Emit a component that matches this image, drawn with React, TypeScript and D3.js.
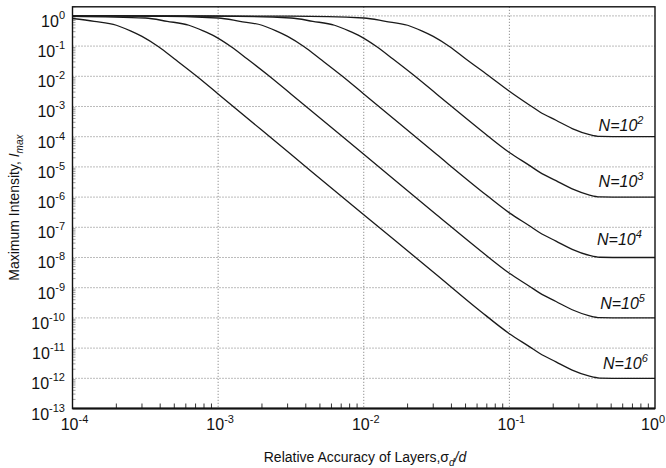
import * as d3 from 'd3'

// values: [sigma_d/d, I_max]
const curveN2: [number, number][] = [
  [1e-4, 1], [3.16e-3, 0.98], [1e-2, 0.85], [1.41e-2, 0.66], [2e-2, 0.49], [2.5e-2, 0.32],
  [3e-2, 0.21], [3.9e-2, 0.095], [5e-2, 0.038], [7.1e-2, 1.1e-2], [0.1, 3.2e-3], [0.138, 1.1e-3],
  [0.162, 6.6e-4], [0.209, 3.5e-4], [0.27, 1.86e-4], [0.355, 1.17e-4], [0.417, 1.02e-4],
  [0.63, 1e-4], [1, 1e-4],
]
const curveN3: [number, number][] = [
  [1e-4, 1], [1e-3, 0.98], [3.16e-3, 0.85], [4.47e-3, 0.66], [6.3e-3, 0.49], [7.9e-3, 0.32],
  [9.5e-3, 0.21], [1.23e-2, 0.095], [1.58e-2, 0.038], [2.24e-2, 1.02e-2], [3.16e-2, 2.6e-3],
  [6.3e-2, 1.7e-4], [0.1, 3.0e-5], [0.138, 1.1e-5], [0.162, 6.6e-6], [0.209, 3.5e-6],
  [0.27, 1.86e-6], [0.355, 1.17e-6], [0.417, 1.02e-6], [0.63, 1e-6], [1, 1e-6],
]
const curveN4: [number, number][] = [
  [1e-4, 1], [3.16e-4, 0.98], [1e-3, 0.85], [1.41e-3, 0.66], [2e-3, 0.49], [2.5e-3, 0.32],
  [3e-3, 0.21], [3.9e-3, 0.095], [5e-3, 0.038], [7.1e-3, 1.02e-2], [1e-2, 2.6e-3],
  [3.16e-2, 2.6e-5], [6.3e-2, 1.7e-6], [0.1, 3.0e-7], [0.138, 1.1e-7], [0.162, 6.6e-8],
  [0.209, 3.5e-8], [0.27, 1.86e-8], [0.355, 1.17e-8], [0.417, 1.02e-8], [0.63, 1e-8], [1, 1e-8],
]
const curveN5: [number, number][] = [
  [1e-4, 0.97], [3.16e-4, 0.85], [4.47e-4, 0.66], [6.3e-4, 0.49], [7.9e-4, 0.32], [9.5e-4, 0.21],
  [1.23e-3, 0.095], [1.58e-3, 0.038], [2.24e-3, 1.02e-2], [3.16e-3, 2.6e-3], [1e-2, 2.6e-5],
  [3.16e-2, 2.6e-7], [6.3e-2, 1.7e-8], [0.1, 3.0e-9], [0.138, 1.1e-9], [0.162, 6.6e-10],
  [0.209, 3.5e-10], [0.27, 1.86e-10], [0.355, 1.17e-10], [0.417, 1.02e-10], [0.63, 1e-10], [1, 1e-10],
]
const curveN6: [number, number][] = [
  [1e-4, 0.82], [1.41e-4, 0.66], [2e-4, 0.49], [2.5e-4, 0.32], [3e-4, 0.21], [3.9e-4, 0.095],
  [5e-4, 0.038], [7.1e-4, 1.02e-2], [1e-3, 2.6e-3], [3.16e-3, 2.6e-5], [1e-2, 2.6e-7],
  [3.16e-2, 2.7e-9], [6.3e-2, 1.7e-10], [0.1, 3.0e-11], [0.138, 1.1e-11], [0.162, 6.6e-12],
  [0.209, 3.5e-12], [0.27, 1.86e-12], [0.355, 1.17e-12], [0.417, 1.02e-12], [0.63, 1e-12], [1, 1e-12],
]

const curves = [curveN2, curveN3, curveN4, curveN5, curveN6]
const curveExps = ['2', '3', '4', '5', '6']
// label anchor points (x value, I value) for "N=10^k"
const labelX = [0.41, 0.41, 0.4, 0.42, 0.44]
const labelY = [1.6e-4, 2.2e-6, 2.6e-8, 2.0e-10, 2.1e-12]

const xExps = [-4, -3, -2, -1, 0]
const yExps = [0, -1, -2, -3, -4, -5, -6, -7, -8, -9, -10, -11, -12, -13]

const W = 666
const H = 468
const left = 72.5
const right = 655
const top = 6.8
const bottom = 408.5
const font = 'Arial, "Liberation Sans", Helvetica, sans-serif'

export default function App() {
  const x = d3.scaleLog().domain([1e-4, 1]).range([left, right])
  const y = d3.scaleLog().domain([1e-13, 2]).range([bottom, top])

  const line = d3
    .line<[number, number]>()
    .x(d => x(d[0]))
    .y(d => y(d[1]))
    .curve(d3.curveMonotoneX)

  const xMinor: number[] = []
  for (let e = -4; e < 0; e++) for (let m = 2; m < 10; m++) xMinor.push(m * 10 ** e)
  const yMinor: number[] = []
  for (let e = -13; e < 0; e++) for (let m = 2; m < 10; m++) yMinor.push(m * 10 ** e)
  yMinor.push(2 * 10 ** 0)

  return (
    <svg width={W} height={H} style={{ position: 'absolute', left: 0, top: 0, background: '#fff' }} fontFamily={font}>
      <rect width={W} height={H} fill="#fff" />

      {/* grid */}
      {xExps.slice(1, 4).map(e => (
        <line key={'gx' + e} x1={x(10 ** e)} x2={x(10 ** e)} y1={top} y2={bottom}
          stroke="#777" strokeWidth={1} strokeDasharray="1,2" />
      ))}
      {yExps.slice(0, 13).map(e => (
        <line key={'gy' + e} x1={left} x2={right} y1={y(10 ** e)} y2={y(10 ** e)}
          stroke="#777" strokeWidth={1} strokeDasharray="1,2" />
      ))}

      {/* minor ticks */}
      {xMinor.map((v, i) => (
        <line key={'mx' + i} x1={x(v)} x2={x(v)} y1={bottom} y2={bottom - 5} stroke="#333" strokeWidth={1} />
      ))}
      {yMinor.map((v, i) => (
        <line key={'my' + i} x1={left} x2={left + 3} y1={y(v)} y2={y(v)} stroke="#888" strokeWidth={0.8} />
      ))}

      {/* curves */}
      {curves.map((c, i) => (
        <path key={'c' + i} d={line(c) ?? ''} fill="none" stroke="#1a1a1a" strokeWidth={1.3} />
      ))}

      {/* frame */}
      <rect x={left} y={top} width={right - left} height={bottom - top} fill="none" stroke="#111" strokeWidth={1.4} />
      <line x1={left} x2={right} y1={bottom} y2={bottom} stroke="#111" strokeWidth={2.2} />

      {/* curve labels */}
      {curveExps.map((k, i) => (
        <text key={'n' + k} x={x(labelX[i])} y={y(labelY[i])} fontSize={16} fontStyle="italic" fill="#111">
          N=10<tspan dy={-7} fontSize={11}>{k}</tspan>
        </text>
      ))}

      {/* y tick labels */}
      {yExps.map(e => (
        <text key={'yl' + e} x={65} y={y(10 ** e) + 11} fontSize={16} textAnchor="end" fill="#111">
          10<tspan dy={-8} fontSize={11}>{String(e)}</tspan>
        </text>
      ))}

      {/* x tick labels */}
      {xExps.map(e => (
        <text key={'xl' + e} x={e === 0 ? 665 : x(10 ** e) + 2} y={430} fontSize={16}
          textAnchor={e === 0 ? 'end' : 'middle'} fill="#111">
          10<tspan dy={-7} fontSize={11}>{String(e)}</tspan>
        </text>
      ))}

      {/* axis titles */}
      <text x={365} y={462} fontSize={14} textAnchor="middle" fill="#111">
        Relative Accuracy of Layers,σ<tspan dy={4} fontSize={10} fontStyle="italic">d</tspan>
        <tspan dy={-4} fontStyle="italic">/d</tspan>
      </text>
      <text transform={`translate(19,${(top + bottom) / 2}) rotate(-90)`} fontSize={14} textAnchor="middle" fill="#111">
        Maximum Intensity, <tspan fontStyle="italic">I</tspan>
        <tspan dy={4} fontSize={10} fontStyle="italic">max</tspan>
      </text>
    </svg>
  )
}
